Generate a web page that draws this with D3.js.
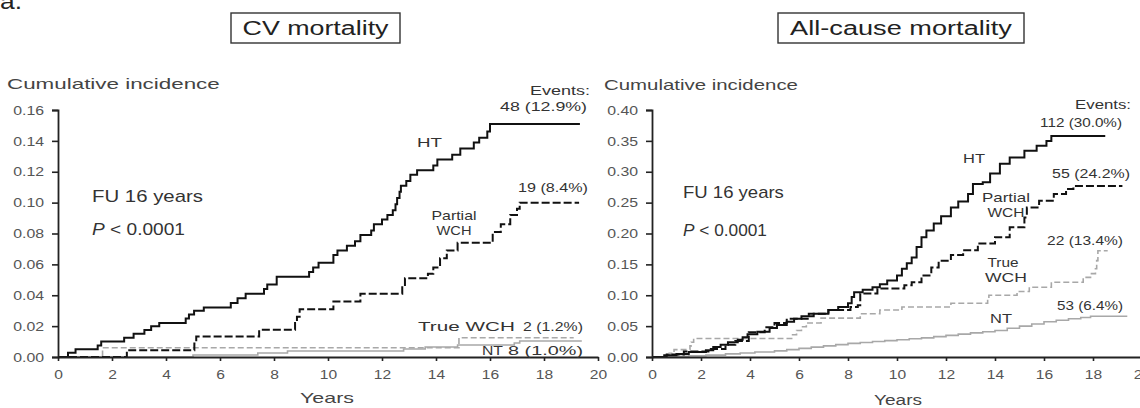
<!DOCTYPE html>
<html><head><meta charset="utf-8">
<script src="https://cdn.jsdelivr.net/npm/d3@7"></script>
<style>
html,body{margin:0;padding:0;background:#fff;}
svg{display:block;font-family:"Liberation Sans",Arial,sans-serif;}
</style></head>
<body><svg id="c" width="1140" height="408"></svg>
<script>
// ---------- data ----------
const xTicks = [0,2,4,6,8,10,12,14,16,18,20];
const cvYTicks = [0,0.02,0.04,0.06,0.08,0.10,0.12,0.14,0.16];
const allYTicks = [0,0.05,0.10,0.15,0.20,0.25,0.30,0.35,0.40];
const panelTitles = ["CV mortality","All-cause mortality"];

// CV mortality (years, cumulative incidence); last point = end of follow-up
const cvHT_t = [0,0.37,0.65,1.47,1.6,2.45,2.8,3.2,3.45,3.75,4.73,4.85,5.04,5.4,6.4,6.65,6.95,7.63,7.75,8.1,9.3,9.45,9.65,10.2,10.35,10.7,11.0,11.2,11.6,11.7,12.0,12.2,12.4,12.5,12.56,12.65,12.7,12.9,13.05,13.3,13.9,14.05,14.6,14.9,15.4,15.6,15.9,16.0,19.33];
const cvHT_v = [0,0.0027,0.005,0.0075,0.010,0.0125,0.015,0.0175,0.020,0.022,0.025,0.0275,0.030,0.032,0.035,0.038,0.041,0.044,0.047,0.052,0.055,0.058,0.061,0.066,0.069,0.072,0.075,0.079,0.082,0.086,0.089,0.092,0.095,0.099,0.103,0.107,0.111,0.114,0.118,0.121,0.124,0.128,0.131,0.135,0.139,0.142,0.146,0.151,0.151];
const cvPW_t = [0,2.55,5.05,5.12,7.45,8.78,8.85,8.95,10.2,11.2,12.75,12.85,13.7,13.9,14.15,14.4,14.8,16.1,16.4,16.75,17.0,17.1,19.3];
const cvPW_v = [0,0.0044,0.0088,0.0132,0.0176,0.022,0.026,0.031,0.036,0.041,0.046,0.051,0.054,0.058,0.064,0.069,0.074,0.081,0.086,0.092,0.096,0.100,0.100];
const cvTW_t = [0,1.65,14.85,19.1];
const cvTW_v = [0,0.006,0.0125,0.0125];
const cvNT_t = [0,5.0,7.4,8.5,12.8,13.6,14.8,16.9,17.1,19.4];
const cvNT_v = [0,0.0013,0.0026,0.0039,0.0052,0.0065,0.0078,0.0091,0.0104,0.0104];

// All-cause mortality
const acHT_t = [0,0.5,1.0,1.5,2.2,2.5,2.8,3.1,3.5,3.7,3.9,4.3,4.8,5.1,5.5,5.8,6.1,6.6,7.2,7.6,8.0,8.15,8.25,8.6,9.0,9.3,9.6,10.0,10.2,10.4,10.6,10.8,11.0,11.2,11.5,11.8,12.2,12.5,12.9,13.1,13.5,13.8,14.2,14.6,15.2,15.7,16.1,16.3,18.5];
const acHT_v = [0,0.003,0.005,0.008,0.011,0.016,0.020,0.024,0.028,0.032,0.037,0.041,0.047,0.052,0.057,0.062,0.066,0.070,0.076,0.081,0.087,0.097,0.105,0.109,0.113,0.118,0.124,0.132,0.143,0.152,0.161,0.178,0.194,0.205,0.216,0.228,0.242,0.252,0.264,0.280,0.283,0.297,0.313,0.323,0.334,0.342,0.350,0.358,0.358];
const acPW_t = [0,0.6,1.3,2.4,3.0,3.4,3.95,4.6,5.0,5.5,6.4,7.2,8.1,8.4,8.5,9.2,10.3,10.6,11.0,11.4,11.7,12.2,12.7,13.3,14.0,14.6,15.2,15.3,15.8,16.4,16.9,17.2,19.2];
const acPW_v = [0,0.004,0.009,0.013,0.020,0.026,0.040,0.048,0.055,0.062,0.070,0.076,0.081,0.084,0.103,0.111,0.116,0.121,0.132,0.145,0.156,0.165,0.173,0.184,0.194,0.210,0.226,0.242,0.253,0.264,0.272,0.277,0.277];
const acTW_t = [0,0.7,0.9,1.55,1.6,1.7,5.7,5.9,6.1,6.3,6.9,8.5,9.3,10.2,12.2,13.7,13.75,14.9,15.4,16.3,17.6,17.9,18.1,18.15,18.2,18.6];
const acTW_v = [0,0.006,0.012,0.018,0.024,0.030,0.036,0.043,0.049,0.055,0.063,0.070,0.076,0.081,0.087,0.093,0.100,0.106,0.113,0.121,0.129,0.135,0.143,0.156,0.172,0.172];
const acNT_t = [0,0.5,1.5,2.2,3.0,3.6,4.2,5.0,5.5,6.0,6.5,7.0,7.5,8.0,8.5,9.0,9.5,10.0,10.5,11.0,11.5,12.0,12.5,13.0,13.5,14.0,14.5,15.0,15.5,16.0,16.5,17.0,17.5,17.9,19.4];
const acNT_v = [0,0.001,0.002,0.003,0.005,0.0065,0.008,0.010,0.012,0.014,0.016,0.018,0.020,0.022,0.0235,0.025,0.0265,0.028,0.0295,0.031,0.033,0.035,0.037,0.039,0.041,0.043,0.0465,0.050,0.0535,0.057,0.0595,0.062,0.064,0.066,0.066];

// ---------- drawing ----------
const svg = d3.select("#c");
const FONT = '"Liberation Sans",Arial,sans-serif';

function txt(g, parts, x, y, o) {
  o = Object.assign({size:13, anchor:"start", width:null, sx:1.3, color:"#333"}, o||{});
  const t = g.append("text")
    .attr("text-anchor", o.anchor)
    .style("font-size", o.size + "px")
    .style("font-family", FONT)
    .attr("fill", o.color);
  (Array.isArray(parts) ? parts : [[parts]]).forEach(p => {
    const s = t.append("tspan").text(p[0]);
    if (p[1]) s.style("font-style", "italic");
  });
  const len = t.node().getComputedTextLength();
  const s = o.width ? o.width / len : o.sx;
  t.attr("transform", `translate(${x},${y}) scale(${s},1)`);
  return t;
}

const zip = (ts, vs) => ts.map((t, i) => ({t, v: vs[i]}));

const panels = [
  {x0:58, x1:598, yMax:0.16, yTicks:cvYTicks, title:panelTitles[0],
   series:[
     {d:zip(cvNT_t,cvNT_v), color:"#a8a8a8", w:1.6, dash:null},
     {d:zip(cvTW_t,cvTW_v), color:"#a8a8a8", w:1.6, dash:"6,3"},
     {d:zip(cvPW_t,cvPW_v), color:"#111", w:2, dash:"8,3"},
     {d:zip(cvHT_t,cvHT_v), color:"#111", w:2, dash:null}
   ]},
  {x0:652, x1:1142, yMax:0.40, yTicks:allYTicks, title:panelTitles[1],
   series:[
     {d:zip(acNT_t,acNT_v), color:"#a8a8a8", w:1.6, dash:null},
     {d:zip(acTW_t,acTW_v), color:"#a8a8a8", w:1.6, dash:"6,3"},
     {d:zip(acPW_t,acPW_v), color:"#111", w:2, dash:"8,3"},
     {d:zip(acHT_t,acHT_v), color:"#111", w:2, dash:null}
   ]}
];

const Y0 = 357, Y1 = 110;
panels.forEach((p, pi) => {
  const x = d3.scaleLinear().domain([0,20]).range([p.x0, p.x1]);
  const y = d3.scaleLinear().domain([0,p.yMax]).range([Y0, Y1]);
  const g = svg.append("g");

  const line = d3.line().x(d => x(d.t)).y(d => y(d.v)).curve(d3.curveStepAfter);
  p.series.forEach(s => {
    g.append("path").datum(s.d).attr("d", line)
      .attr("fill","none").attr("stroke", s.color).attr("stroke-width", s.w)
      .attr("stroke-dasharray", s.dash);
  });

  const ya = g.append("g").attr("transform", `translate(${p.x0},0)`)
    .call(d3.axisLeft(y).tickValues(p.yTicks).tickFormat(d3.format(".2f")).tickSize(6).tickSizeOuter(6));
  const xa = g.append("g").attr("transform", `translate(0,${Y0})`)
    .call(d3.axisBottom(x).tickValues(xTicks).tickFormat(d3.format("d")).tickSize(4).tickSizeOuter(0));
  [ya, xa].forEach(a => {
    a.select(".domain").attr("stroke","#222").attr("stroke-width",1.8);
    a.selectAll(".tick line").attr("stroke","#222").attr("stroke-width",1.6);
    a.selectAll(".tick text").attr("fill","#555").style("font-size","12px").style("font-family",FONT);
  });
  ya.selectAll(".tick text").attr("x",null).attr("dy","0.35em")
    .attr("transform","translate(-14,0) scale(1.32,1)");
  xa.selectAll(".tick text").attr("y",null).attr("dy",null)
    .attr("transform","translate(0,22) scale(1.3,1)");
});

// titles
svg.append("rect").attr("x",231).attr("y",13).attr("width",169).attr("height",30)
  .attr("fill","none").attr("stroke","#333").attr("stroke-width",1.4);
svg.append("rect").attr("x",778).attr("y",13).attr("width",246).attr("height",30)
  .attr("fill","none").attr("stroke","#333").attr("stroke-width",1.4);
txt(svg, panelTitles[0], 315.5, 35, {size:20, anchor:"middle", width:146, color:"#222"});
txt(svg, panelTitles[1], 901, 35, {size:20, anchor:"middle", width:222, color:"#222"});
txt(svg, "a.", 0, 9, {size:22, color:"#222", sx:1.2});

// axis titles
txt(svg, "Cumulative incidence", 7, 89, {size:15, width:213, color:"#444"});
txt(svg, "Cumulative incidence", 604, 90, {size:15, width:194, color:"#444"});
txt(svg, "Years", 327, 403, {size:15, anchor:"middle", width:54, color:"#444"});
txt(svg, "Years", 898, 405, {size:15, anchor:"middle", width:48, color:"#444"});

// FU and P
txt(svg, "FU 16 years", 92, 202, {size:16, width:111, color:"#333"});
txt(svg, [["P",true],[" < 0.0001"]], 92, 235, {size:16, width:93, color:"#333"});
txt(svg, "FU 16 years", 683, 198, {size:16, width:101, color:"#333"});
txt(svg, [["P",true],[" < 0.0001"]], 683, 236, {size:16, width:84, color:"#333"});

// left annotations
txt(svg, "Events:", 590, 95, {size:13, anchor:"end", width:60});
txt(svg, "48 (12.9%)", 587, 111, {size:13, anchor:"end", width:87});
txt(svg, "HT", 417, 147, {size:13, width:25});
txt(svg, "19 (8.4%)", 588, 192, {size:13, anchor:"end", width:70});
txt(svg, "Partial", 454, 220, {size:13, anchor:"middle", width:45});
txt(svg, "WCH", 454, 235, {size:13, anchor:"middle", width:35});
txt(svg, "True WCH", 418, 331, {size:13, width:97});
txt(svg, "2 (1.2%)", 583, 331, {size:13, anchor:"end", width:60});
txt(svg, "NT", 482, 355, {size:13, width:21});
txt(svg, "8 (1.0%)", 583, 355, {size:13, anchor:"end", width:75});

// right annotations
txt(svg, "Events:", 1131, 109, {size:13, anchor:"end", width:56});
txt(svg, "112 (30.0%)", 1122, 127, {size:13, anchor:"end", width:82});
txt(svg, "HT", 963, 163, {size:13, width:22});
txt(svg, "55 (24.2%)", 1130, 178, {size:13, anchor:"end", width:78});
txt(svg, "Partial", 1006, 202, {size:13, anchor:"middle", width:48});
txt(svg, "WCH", 1006, 217, {size:13, anchor:"middle", width:37});
txt(svg, "22 (13.4%)", 1123, 245, {size:13, anchor:"end", width:76});
txt(svg, "True", 1003, 267, {size:13, anchor:"middle", width:31});
txt(svg, "WCH", 1006, 282, {size:13, anchor:"middle", width:42});
txt(svg, "NT", 990, 323, {size:13, width:22});
txt(svg, "53 (6.4%)", 1123, 310, {size:13, anchor:"end", width:66});
</script></body></html>
